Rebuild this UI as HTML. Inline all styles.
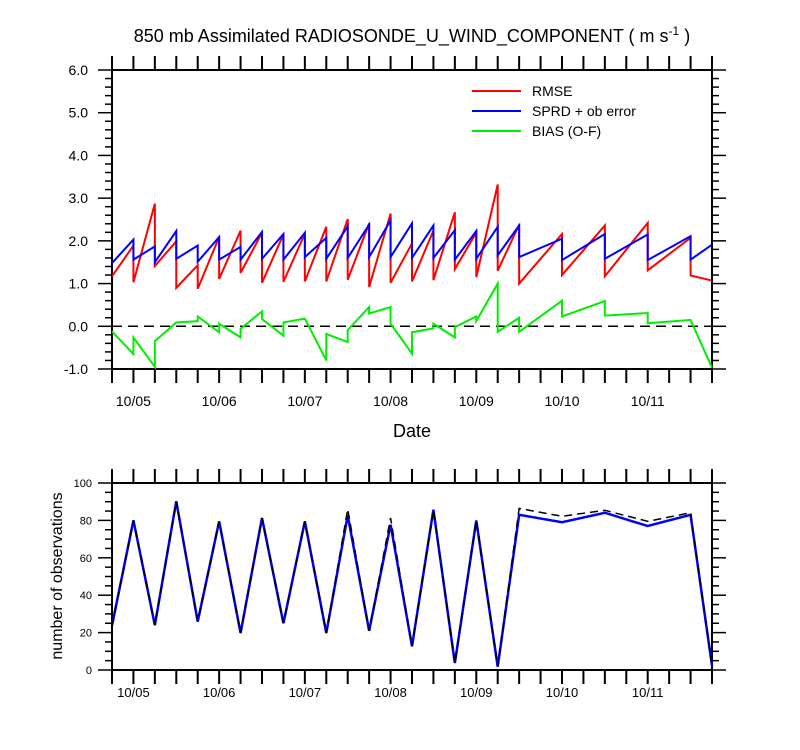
<!DOCTYPE html>
<html><head><meta charset="utf-8"><style>
html,body{margin:0;padding:0;background:#fff;}
svg{display:block;font-family:"Liberation Sans",Arial,sans-serif;}
</style></head><body>
<svg id="chart" width="800" height="750" viewBox="0 0 800 750"></svg>
<script>
// time index (6-hour steps from 10/04 18Z)
const tIdx = [0,1,2,3,4,5,6,7,8,9,10,11,12,13,14,15,16,17,18,19,21,23,25,27,28];
const rmseBefore = [1.17,1.89,2.87,1.99,1.43,2.09,2.24,2.19,2.15,2.17,2.33,2.51,2.41,2.64,1.94,2.24,2.67,2.19,3.32,2.38,2.16,2.36,2.42,2.07,1.07];
const rmseAfter  = [1.17,1.03,1.41,0.90,0.88,1.11,1.25,1.02,1.04,1.05,1.05,1.09,0.92,1.02,1.05,1.08,1.34,1.15,1.30,1.00,1.20,1.17,1.31,1.19,1.07];
const sprdBefore = [1.48,2.03,1.87,2.23,1.89,2.09,1.86,2.21,2.16,2.19,2.07,2.34,2.38,2.48,2.41,2.36,2.25,2.23,2.33,2.36,2.05,2.16,2.15,2.11,1.91];
const sprdAfter  = [1.48,1.56,1.50,1.58,1.51,1.56,1.56,1.58,1.56,1.62,1.58,1.60,1.62,1.62,1.60,1.60,1.56,1.58,1.66,1.62,1.55,1.58,1.55,1.56,1.91];
const biasBefore = [-0.12,-0.65,-0.95,0.09,0.12,-0.14,-0.26,0.35,-0.22,0.18,-0.80,-0.37,0.45,0.45,-0.64,-0.05,-0.26,0.23,1.00,0.20,0.60,0.59,0.31,0.15,-0.97];
const biasAfter  = [-0.12,-0.26,-0.35,0.09,0.23,0.06,-0.06,0.17,0.09,0.18,-0.18,-0.09,0.30,0.06,-0.14,0.06,-0.02,0.12,-0.13,-0.13,0.23,0.25,0.07,0.15,-0.97];
const obsUsed  = [23.7,80,24,90.2,25.9,79.5,19.8,81.3,25.0,79.5,19.8,82.7,21,77.7,12.7,85.7,3.7,80,1.8,83,79,84.1,77,83,2.3];
const obsTotal = [23.7,80,24,90.2,25.9,79.5,19.8,81.3,25.0,79.5,19.8,86,21,81.3,12.7,85.7,3.7,80,1.8,86.4,82.2,85.4,79.5,84.1,2.3];
const dayLabels = ["10/05","10/06","10/07","10/08","10/09","10/10","10/11"];
const topYTicks = ["6.0","5.0","4.0","3.0","2.0","1.0","0.0","-1.0"];
const botYTicks = ["100","80","60","40","20","0"];

const NS="http://www.w3.org/2000/svg";
const svg=document.getElementById('chart');
function el(tag,attrs,parent){const e=document.createElementNS(NS,tag);for(const k in attrs)e.setAttribute(k,attrs[k]);(parent||svg).appendChild(e);return e;}
const X0=112,X1=712,NT=28;
const xs=i=>X0+(X1-X0)*i/NT;
const yTop=v=>70+(6-v)*(369-70)/7;
const yBot=v=>670-v*(670-483)/100;

function frame(top,bot,name){
  const g=el('g',{});
  
  
  el('rect',{x:X0,y:top,width:X1-X0,height:bot-top,fill:'none',stroke:'#000','stroke-width':2},g);
  for(let i=0;i<=NT;i++){const x=xs(i);
    el('line',{x1:x,x2:x,y1:top,y2:top-14,stroke:'#000','stroke-width':2},g);
    el('line',{x1:x,x2:x,y1:bot,y2:bot+14,stroke:'#000','stroke-width':2},g);}
  return g;
}
// title
let t=el('text',{x:412,y:42,'text-anchor':'middle','font-size':18});


t.innerHTML='850 mb Assimilated RADIOSONDE_U_WIND_COMPONENT ( m s<tspan dy="-7" font-size="12">-1</tspan><tspan dy="7"> )</tspan>';

// top panel
const gT=frame(70,369,'top');
for(let v=-1;v<=6.001;v+=0.2){const y=yTop(v);const major=Math.abs(v-Math.round(v))<1e-6;const L=major?14:7;
  el('line',{x1:X0,x2:X0-L,y1:y,y2:y,stroke:'#000','stroke-width':1.5},gT);
  el('line',{x1:X1,x2:X1+L,y1:y,y2:y,stroke:'#000','stroke-width':1.5},gT);}
topYTicks.forEach(s=>{const tx=el('text',{x:88,y:yTop(parseFloat(s))+5,'text-anchor':'end','font-size':14},gT);
  
  
  tx.textContent=s;});
dayLabels.forEach((s,k)=>{const tx=el('text',{x:xs(1+4*k),y:406,'text-anchor':'middle','font-size':14},gT);
  
  
  tx.textContent=s;});
let zl=el('line',{x1:X0,x2:X1,y1:yTop(0),y2:yTop(0),stroke:'#000','stroke-width':1.5,'stroke-dasharray':'10,6'});


let xt=el('text',{x:412,y:437,'text-anchor':'middle','font-size':18});


xt.textContent='Date';

function saw(before,after,color,name){
  const pts=[];
  tIdx.forEach((ti,k)=>{pts.push(xs(ti)+','+yTop(before[k]));pts.push(xs(ti)+','+yTop(after[k]));});
  const p=el('polyline',{points:pts.join(' '),fill:'none',stroke:color,'stroke-width':2,'stroke-linejoin':'miter'});
  
  
}
saw(rmseBefore,rmseAfter,'#ff0000','rmse-line');
saw(sprdBefore,sprdAfter,'#0000ff','sprd-line');
saw(biasBefore,biasAfter,'#00ee00','bias-line');

// legend
[['RMSE','#ff0000',91],['SPRD + ob error','#0000ff',111],['BIAS (O-F)','#00ee00',131]].forEach(([s,c,y])=>{
  const g=el('g',{});
  
  
  el('line',{x1:472,x2:521,y1:y,y2:y,stroke:c,'stroke-width':2},g);
  const tx=el('text',{x:532,y:y+5,'font-size':14},g);tx.textContent=s;});

// bottom panel
const gB=frame(483,670,'bottom');
for(let v=0;v<=100;v+=5){const y=yBot(v);const L=v%20===0?14:7;
  el('line',{x1:X0,x2:X0-L,y1:y,y2:y,stroke:'#000','stroke-width':1.5},gB);
  el('line',{x1:X1,x2:X1+L,y1:y,y2:y,stroke:'#000','stroke-width':1.5},gB);}
botYTicks.forEach(s=>{const tx=el('text',{x:92,y:yBot(+s)+4,'text-anchor':'end','font-size':11},gB);
  
  
  tx.textContent=s;});
dayLabels.forEach((s,k)=>{const tx=el('text',{x:xs(1+4*k),y:697,'text-anchor':'middle','font-size':13},gB);
  
  
  tx.textContent=s;});
let yt=el('text',{x:0,y:0,'text-anchor':'middle','font-size':16,transform:'translate(62,576) rotate(-90)'});


yt.textContent='number of observations';
let pu=el('polyline',{points:tIdx.map((ti,k)=>xs(ti)+','+yBot(obsUsed[k])).join(' '),fill:'none',stroke:'#0000ff','stroke-width':2.5});


let pt=el('polyline',{points:tIdx.map((ti,k)=>xs(ti)+','+yBot(obsTotal[k])).join(' '),fill:'none',stroke:'#000','stroke-width':1.5,'stroke-dasharray':'8,5'});


</script>
</body></html>
